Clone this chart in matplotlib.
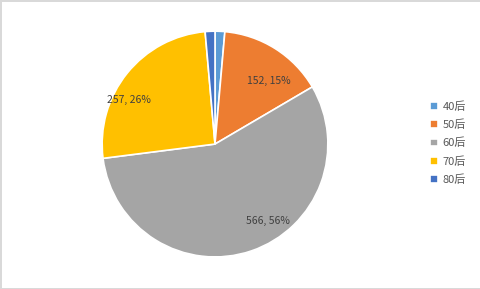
import matplotlib.pyplot as plt

plt.rcParams['font.family'] = ['Noto Sans CJK SC', 'DejaVu Sans']

labels = ['40后', '50后', '60后', '70后', '80后']
values = [14, 152, 566, 257, 14]
colors = ['#5B9BD5', '#ED7D31', '#A5A5A5', '#FFC000', '#4472C4']

total = sum(values)


def fmt(pct):
    v = int(round(pct * total / 100.0))
    if pct < 5:
        return ''
    return '%d, %d%%' % (v, round(pct))


fig = plt.figure(figsize=(4.81, 2.89), dpi=100, edgecolor='#D9D9D9', linewidth=1)
ax = fig.add_axes([0.21, 0.107, 0.474, 0.789])

wedges, texts, autotexts = ax.pie(values, colors=colors, startangle=90, counterclock=False,
                                  autopct=fmt, pctdistance=0.8, radius=1,
                                  wedgeprops=dict(edgecolor='white', linewidth=1.2),
                                  textprops=dict(fontsize=7.5, color='#404040'))
# label placement (Excel puts them a bit off the wedge middle)
label_pos = {1: (0.48, 0.56), 2: (0.47, -0.68), 3: (-0.76, 0.39)}
for i, p in label_pos.items():
    autotexts[i].set_position(p)

ax.set_xlim(-1.01, 1.01)
ax.set_ylim(-1.01, 1.01)
ax.set_aspect('equal')

leg = ax.legend(wedges, labels, loc='center left', bbox_to_anchor=(0.873, 0.505),
                bbox_transform=fig.transFigure, frameon=False, fontsize=8,
                handlelength=0.7, handleheight=0.7, handletextpad=0.45, labelspacing=0.7)
for t in leg.get_texts():
    t.set_color('#595959')

fig.savefig('out.png', dpi=100, edgecolor=fig.get_edgecolor())
